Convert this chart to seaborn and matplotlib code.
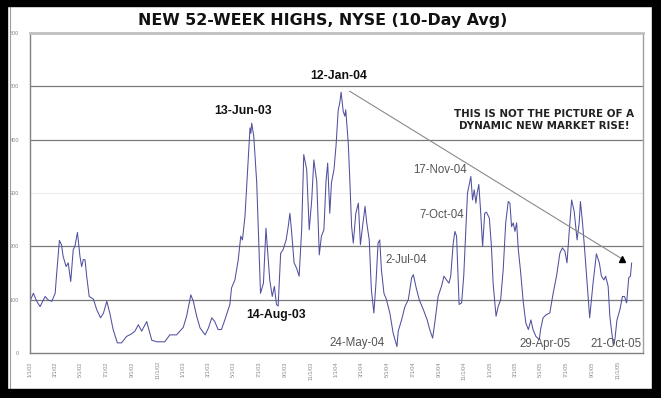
import matplotlib
matplotlib.use("Agg")
import matplotlib.pyplot as plt
import matplotlib.dates as mdates
from matplotlib.patches import Rectangle
from matplotlib.lines import Line2D
from matplotlib.ticker import FuncFormatter, MultipleLocator
import seaborn as sns
import pandas as pd

# ---- data ----
start_date = "2002-01-01"
# days since 2002-01-01
day_offset = [
    0, 8, 16, 24, 36, 44, 52, 60, 63, 70, 75, 79, 86, 91, 97, 103, 107, 113, 119, 123,
    127, 131, 135, 141, 151, 159, 168, 175, 183, 190, 198, 208, 218, 230, 242, 250, 258, 266, 278, 290,
    302, 321, 333, 349, 365, 373, 383, 389, 397, 405, 417, 425, 433, 440, 448, 456, 464, 476, 480, 488,
    496, 502, 506, 512, 520, 524, 526, 528, 533, 540, 544, 549, 556, 562, 567, 571, 577, 582, 587, 591,
    597, 603, 610, 615, 619, 623, 629, 635, 641, 647, 652, 659, 665, 671, 676, 683, 689, 694, 700, 705,
    709, 714, 718, 724, 729, 734, 738, 741, 746, 750, 752, 758, 762, 766, 770, 776, 782, 787, 792, 798,
    802, 808, 813, 819, 824, 829, 833, 837, 843, 849, 857, 865, 874, 877, 885, 893, 901, 909, 913, 919,
    927, 937, 946, 952, 959, 964, 972, 980, 986, 992, 998, 1002, 1008, 1012, 1016, 1022, 1028, 1033, 1038, 1042,
    1050, 1054, 1058, 1062, 1065, 1069, 1073, 1078, 1083, 1087, 1094, 1099, 1103, 1110, 1115, 1121, 1127, 1133, 1139, 1143,
    1147, 1151, 1155, 1159, 1163, 1168, 1175, 1181, 1187, 1193, 1198, 1205, 1213, 1216, 1222, 1230, 1238, 1246, 1254, 1262,
    1268, 1274, 1279, 1284, 1290, 1296, 1303, 1308, 1311, 1316, 1321, 1327, 1333, 1341, 1349, 1356, 1361, 1367, 1371, 1377,
    1381, 1389, 1393, 1398, 1405, 1411, 1416, 1421, 1426, 1430, 1433,
]
new_highs_10d = [
    97, 112, 97, 87, 106, 99, 97, 112, 144, 211, 203, 181, 162, 169, 134, 194, 200, 226, 181, 162,
    175, 175, 144, 106, 101, 81, 66, 75, 97, 75, 44, 19, 19, 31, 36, 41, 53, 41, 59, 24,
    21, 21, 34, 34, 48, 69, 109, 97, 69, 47, 34, 47, 66, 59, 44, 44, 62, 91, 122, 137,
    175, 219, 212, 256, 369, 422, 412, 431, 406, 319, 225, 112, 131, 234, 181, 137, 106, 125, 91, 88,
    187, 194, 212, 237, 262, 228, 169, 159, 144, 231, 372, 344, 231, 287, 362, 322, 184, 219, 231, 322,
    356, 262, 319, 344, 390, 455, 470, 489, 453, 444, 456, 394, 319, 237, 206, 262, 281, 203, 237, 275,
    244, 212, 119, 75, 131, 206, 212, 156, 112, 100, 75, 37, 12, 41, 62, 87, 100, 141, 147, 125,
    100, 81, 62, 44, 28, 56, 106, 125, 144, 137, 131, 144, 206, 228, 219, 91, 94, 144, 231, 300,
    331, 287, 306, 281, 300, 316, 269, 200, 262, 264, 253, 200, 131, 69, 87, 100, 156, 244, 284, 281,
    237, 244, 228, 244, 194, 156, 94, 56, 44, 62, 44, 31, 25, 44, 66, 72, 75, 112, 144, 187,
    197, 191, 169, 225, 287, 266, 212, 244, 284, 244, 194, 131, 66, 131, 186, 169, 144, 137, 144, 125,
    69, 16, 25, 62, 81, 106, 106, 94, 141, 144, 169,
]
title_text = "NEW 52-WEEK HIGHS, NYSE (10-Day Avg)"
note_text = "THIS IS NOT THE PICTURE OF A\nDYNAMIC NEW MARKET RISE!"
# labelled turning points: (label, date, value at label centre, bold)
label_names = ["13-Jun-03", "12-Jan-04", "14-Aug-03", "24-May-04", "2-Jul-04",
               "17-Nov-04", "7-Oct-04", "29-Apr-05", "21-Oct-05"]
label_dates = ["2003-05-23", "2004-01-07", "2003-08-11", "2004-02-18", "2004-06-15",
               "2004-09-03", "2004-09-09", "2005-05-12", "2005-10-27"]
label_values = [454, 519, 71, 19, 174, 343, 259, 17, 17]
label_bold = [True, True, True, False, False, False, False, False, False]
trend_start = ("2004-02-01", 491)
trend_end = ("2005-11-12", 176)

df = pd.DataFrame({
    "date": pd.Timestamp(start_date) + pd.to_timedelta(day_offset, unit="D"),
    "highs": new_highs_10d,
})

sns.set_style("white")
plt.rcParams["font.family"] = ["Liberation Sans", "DejaVu Sans"]

fig = plt.figure(figsize=(6.61, 3.98), dpi=100)
ax = fig.add_axes([30 / 661, 1 - 353 / 398, 613 / 661, 320 / 398])

sns.lineplot(data=df, x="date", y="highs", ax=ax, color="#50509f", linewidth=0.75)

ax.set_xlim(mdates.date2num(pd.Timestamp("2002-01-01")), mdates.date2num(pd.Timestamp("2005-12-31")))
ax.set_ylim(0, 600)
ax.set_xlabel("")
ax.set_ylabel("")

# gridlines
for v, c, lw in [(100, "#7a7a7a", 0.9), (200, "#7a7a7a", 0.9), (300, "#ececec", 0.8),
                 (400, "#7a7a7a", 0.9), (500, "#7a7a7a", 0.9)]:
    ax.axhline(v, color=c, linewidth=lw, zorder=0)

for side in ["left", "bottom"]:
    ax.spines[side].set_color("#808080")
    ax.spines[side].set_linewidth(1.0)
ax.spines["right"].set_color("#a0a0a0")
ax.spines["right"].set_linewidth(1.0)
ax.spines["top"].set_color("#c0c0c0")
ax.spines["top"].set_linewidth(2.0)

ax.yaxis.set_major_locator(MultipleLocator(100))
ax.xaxis.set_major_locator(mdates.MonthLocator(bymonth=[1, 3, 5, 7, 9, 11]))
ax.xaxis.set_major_formatter(FuncFormatter(
    lambda x, pos: (lambda d: f"{d.month}/{d.day}/{d.strftime('%y')}")(mdates.num2date(x))))
ax.tick_params(axis="both", which="major", direction="out", length=3, width=0.8,
               color="#808080", labelsize=4, labelcolor="#8a8a8a", pad=2)
ax.tick_params(axis="x", labelrotation=90, pad=3)
ax.tick_params(axis="y", pad=5)

# title
fig.text(323 / 661, 1 - 20 / 398, title_text, ha="center", va="center",
         fontsize=11.4, fontweight="bold", color="#111111", family="DejaVu Sans")

# labels at turning points
for name, d, v, b in zip(label_names, label_dates, label_values, label_bold):
    ax.text(mdates.date2num(pd.Timestamp(d)), v, name, ha="center", va="center",
            fontsize=8.8 if b else 8.3, fontweight="bold" if b else "normal",
            color="#111111" if b else "#555555")

ax.text(mdates.date2num(pd.Timestamp("2005-05-10")), 437, note_text, ha="center", va="center",
        fontsize=7.4, fontweight="bold", color="#222222", linespacing=1.2,
        family="DejaVu Sans")

end_x = mdates.date2num(pd.Timestamp(trend_end[0]))
start_x = mdates.date2num(pd.Timestamp(trend_start[0]))
ax.plot([start_x, end_x], [trend_start[1], trend_end[1]], color="#8a8a8a", linewidth=0.8)
ax.plot([end_x], [trend_end[1]], marker="^", color="black", markersize=4.5, zorder=5)

# black outer frame with thin grey inner edge
tf = fig.transFigure
fig.patches.append(Rectangle((0, 1 - 6 / 398), 1, 6 / 398, transform=tf, color="black", zorder=10))
fig.patches.append(Rectangle((0, 0), 7 / 661, 1, transform=tf, color="black", zorder=10))
fig.patches.append(Rectangle((652 / 661, 0), 9 / 661, 1, transform=tf, color="black", zorder=10))
fig.patches.append(Rectangle((0, 0), 1, 9 / 398, transform=tf, color="black", zorder=10))
fig.lines.append(Line2D([10 / 661, 10 / 661], [9 / 398, 1 - 6 / 398], transform=tf,
                        color="#9a9a9a", linewidth=0.8))

fig.savefig("out.png", dpi=100)
